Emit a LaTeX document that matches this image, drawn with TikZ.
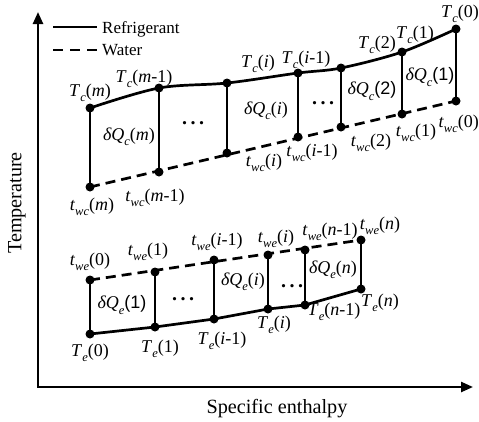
\documentclass[tikz,border=0pt]{standalone}
\usepackage{fontspec}
\setmainfont{Liberation Serif}
\newfontfamily\arialf{Liberation Sans}
\usetikzlibrary{arrows.meta}
\newcommand\sbs[1]{\raisebox{-0.3em}{\fontsize{12.5}{12.5}\selectfont\itshape #1}}
\newcommand\vlab[3]{\textit{#1}\sbs{#2}(#3)}
\newcommand\dqm[2]{\textit{δQ}\sbs{#1}(\textit{#2})}
\newcommand\dqd[2]{\textit{δQ}\sbs{#1}{\arialf(#2)}}
\newcommand\ddd{.\hspace{3.5pt}.\hspace{3.5pt}.}
\tikzset{
  dot/.style={circle,fill=black,inner sep=0pt,minimum size=9pt},
  ref/.style={line width=2.7pt},
  wat/.style={line width=2.7pt,dash pattern=on 10pt off 6pt},
  lab/.style={font=\fontsize{18}{20}\selectfont,inner sep=0pt},
  leg/.style={font=\fontsize{17}{19}\selectfont,inner sep=0pt},
  dots/.style={font=\fontsize{20}{22}\selectfont\bfseries,inner sep=0pt},
  axl/.style={font=\fontsize{20.2}{22}\selectfont,inner sep=0pt},
  axis/.style={line width=2.4pt,{Triangle[length=12pt,width=10pt]}-{Triangle[length=12pt,width=10pt]}}
}
\begin{document}
\begin{tikzpicture}[x=1pt,y=-1pt]
\useasboundingbox[fill=white] (0,0) rectangle (479,421);
% axes
\coordinate (Ytip) at (38,12);
\coordinate (O) at (38,387);
\coordinate (Xtip) at (473,387);
\draw[axis] (Ytip) -- (O) -- (Xtip);
\node[axl,rotate=90] (ylab) at (17,203) {Temperature};
\node[axl] (xlab) at (277,409) {Specific enthalpy};
% legend
\coordinate (l1a) at (53,27); \coordinate (l1b) at (97,27);
\coordinate (l2a) at (53,50); \coordinate (l2b) at (97,50);
\draw[ref] (l1a) -- (l1b);
\draw[wat,dash pattern=on 10pt off 7pt] (l2a) -- (l2b);
\node[leg,anchor=base west] (lr) at (102,33) {Refrigerant};
\node[leg,anchor=base west] (lw) at (102,55) {Water};
% condenser points
\coordinate (cT1) at (90,108);
\coordinate (cT2) at (159,88);
\coordinate (cT3) at (227,83);
\coordinate (cT4) at (298,73);
\coordinate (cT5) at (341,68);
\coordinate (cT6) at (402,52);
\coordinate (cT7) at (456,29);
\coordinate (cw1) at (90,187);
\coordinate (cw2) at (159,172);
\coordinate (cw3) at (227,153);
\coordinate (cw4) at (298,137);
\coordinate (cw5) at (341,127);
\coordinate (cw6) at (402,114);
\coordinate (cw7) at (456,101);
\draw[ref] plot[smooth,tension=0.55] coordinates {(cT1) (cT2) (cT3) (cT4) (cT5) (cT6) (cT7)};
\draw[wat] (cw1) -- (cw7);
\foreach \i in {1,...,7}{\draw[ref] (cT\i) -- (cw\i);}
\foreach \i in {1,...,7}{\node[dot] at (cT\i) {}; \node[dot] at (cw\i) {};}
% evaporator points
\coordinate (eT1) at (90,334);
\coordinate (eT2) at (155,327);
\coordinate (eT3) at (214,319);
\coordinate (eT4) at (268,309);
\coordinate (eT5) at (305,305);
\coordinate (eT6) at (361,289);
\coordinate (ew1) at (90,280);
\coordinate (ew2) at (155,272);
\coordinate (ew3) at (214,260);
\coordinate (ew4) at (268,255);
\coordinate (ew5) at (305,250);
\coordinate (ew6) at (361,240);
\draw[ref] (eT1) -- (eT2) -- (eT3) -- (eT4) -- (eT5) -- (eT6);
\draw[wat] (ew1) -- (ew6);
\foreach \i in {1,...,6}{\draw[ref] (eT\i) -- (ew\i);}
\foreach \i in {1,...,6}{\node[dot] at (eT\i) {}; \node[dot] at (ew\i) {};}
% condenser labels
\node[lab] (Lc1) at (90,93) {\vlab{T}{c}{\textit{m}}};
\node[lab] (Lc2) at (144,79) {\vlab{T}{c}{\textit{m}-1}};
\node[lab] (Lc3) at (258,64) {\vlab{T}{c}{\textit{i}}};
\node[lab] (Lc4) at (306,60) {\vlab{T}{c}{\textit{i}-1}};
\node[lab] (Lc5) at (377,45) {\vlab{T}{c}{2}};
\node[lab] (Lc6) at (415,35) {\vlab{T}{c}{1}};
\node[lab,anchor=east] (Lc7) at (479,14) {\vlab{T}{c}{0}};
\node[lab] (Dc1) at (129,137) {\dqm{c}{m}};
\node[dots,anchor=base] (E1) at (193,124) {\ddd};
\node[lab] (Dc2) at (266,111) {\dqm{c}{i}};
\node[dots,anchor=base] (E2) at (323,104) {\ddd};
\node[lab] (Dc3) at (372,91) {\dqd{c}{2}};
\node[lab] (Dc4) at (430,77) {\dqd{c}{1}};
\node[lab] (Wc1) at (92,207) {\vlab{t}{wc}{\textit{m}}};
\node[lab] (Wc2) at (155,198) {\vlab{t}{wc}{\textit{m}-1}};
\node[lab] (Wc3) at (264,163) {\vlab{t}{wc}{\textit{i}}};
\node[lab] (Wc4) at (312,153) {\vlab{t}{wc}{\textit{i}-1}};
\node[lab] (Wc5) at (371,143) {\vlab{t}{wc}{2}};
\node[lab] (Wc6) at (416,133) {\vlab{t}{wc}{1}};
\node[lab,anchor=east] (Wc7) at (479,124) {\vlab{t}{wc}{0}};
% evaporator labels
\node[lab] (We1) at (90,262) {\vlab{t}{we}{0}};
\node[lab] (We2) at (148,252) {\vlab{t}{we}{1}};
\node[lab] (We3) at (217,242) {\vlab{t}{we}{\textit{i}-1}};
\node[lab] (We4) at (276,239) {\vlab{t}{we}{\textit{i}}};
\node[lab] (We5) at (330,232) {\vlab{t}{we}{\textit{n}-1}};
\node[lab] (We6) at (380,226) {\vlab{t}{we}{\textit{n}}};
\node[lab] (De1) at (122,305) {\dqd{e}{1}};
\node[dots,anchor=base] (E3) at (183,300) {\ddd};
\node[lab] (De2) at (243,282) {\dqm{e}{i}};
\node[dots,anchor=base] (E4) at (292,287) {\ddd};
\node[lab] (De3) at (333,270) {\dqm{e}{n}};
\node[lab] (Te1) at (90,353) {\vlab{T}{e}{0}};
\node[lab] (Te2) at (160,349) {\vlab{T}{e}{1}};
\node[lab] (Te3) at (222,341) {\vlab{T}{e}{\textit{i}-1}};
\node[lab] (Te4) at (274,325) {\vlab{T}{e}{\textit{i}}};
\node[lab] (Te5) at (334,312) {\vlab{T}{e}{\textit{n}-1}};
\node[lab] (Te6) at (380,303) {\vlab{T}{e}{\textit{n}}};
\end{tikzpicture}
\end{document}
